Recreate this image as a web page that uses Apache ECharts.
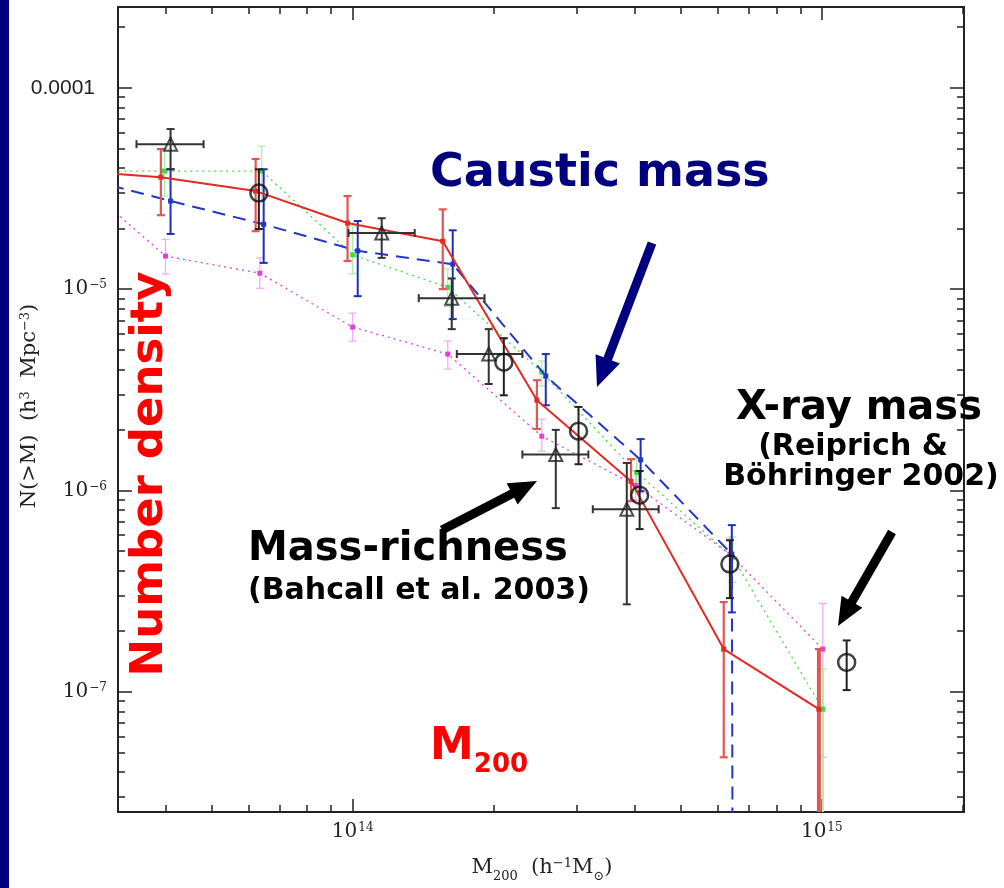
<!DOCTYPE html>
<html><head><meta charset="utf-8">
<script src="https://cdn.jsdelivr.net/npm/echarts@6/dist/echarts.min.js"></script>
<style>html,body{margin:0;padding:0;background:#fff;overflow:hidden}#c{width:1004px;height:888px}</style>
</head><body><div id="c"></div>
<script>
// ---------------- DATA (M200 in h^-1 Msun ; N(>M) in h^3 Mpc^-3) ----------------
// first entry of each model curve lies left of the plotted range (curve enters from the edge)
const redX  = [2.5e13, 3.90e13, 6.21e13, 9.75e13, 1.556e14, 2.47e14, 3.92e14, 6.18e14, 9.86e14];
const redY  = [3.87e-5, 3.60e-5, 3.07e-5, 2.13e-5, 1.73e-5, 2.81e-6, 1.11e-6, 1.63e-7, 8.2e-8];
const redHi = [null, 4.96e-5, 4.43e-5, 2.90e-5, 2.49e-5, 3.53e-6, 1.43e-6, 2.79e-7, 1.63e-7];
const redLo = [null, 2.33e-5, 1.94e-5, 1.38e-5, 1.00e-5, 2.02e-6, 8.85e-7, 4.73e-8, 1e-9];

const blueX  = [2.5e13, 4.09e13, 6.46e13, 1.025e14, 1.634e14, 2.58e14, 4.11e14, 6.43e14, 6.52e14];
const blueY  = [3.70e-5, 2.74e-5, 2.10e-5, 1.55e-5, 1.33e-5, 3.70e-6, 1.42e-6, 4.83e-7, 1e-12];
const blueHi = [null, 3.94e-5, 3.94e-5, 2.18e-5, 1.96e-5, 4.76e-6, 1.80e-6, 6.73e-7, null];
const blueLo = [null, 1.88e-5, 1.35e-5, 9.23e-6, 7.10e-6, 2.65e-6, 9.9e-7, 2.48e-7, null];

const greenX  = [2.5e13, 3.97e13, 6.40e13, 1.0e14, 1.595e14, 2.53e14, 4.03e14, 6.45e14, 1.005e15];
const greenY  = [3.86e-5, 3.86e-5, 3.86e-5, 1.48e-5, 1.02e-5, 3.87e-6, 1.23e-6, 4.67e-7, 8.2e-8];
const greenHi = [null, 5.0e-5, 5.13e-5, 2.06e-5, 1.26e-5, 4.4e-6, 1.45e-6, 5.9e-7, 1.3e-7];
const greenLo = [null, 2.9e-5, 2.74e-5, 1.19e-5, 8.2e-6, 3.3e-6, 9.8e-7, 3.5e-7, 1e-9];

const magX  = [2.5e13, 3.99e13, 6.34e13, 1.0e14, 1.595e14, 2.53e14, 4.01e14, 6.37e14, 1.005e15];
const magY  = [3.77e-5, 1.46e-5, 1.20e-5, 6.48e-6, 4.76e-6, 1.86e-6, 1.06e-6, 4.83e-7, 1.63e-7];
const magHi = [null, 1.77e-5, 1.43e-5, 7.6e-6, 5.52e-6, 2.26e-6, 1.25e-6, 5.8e-7, 2.75e-7];
const magLo = [null, 1.19e-5, 1.01e-5, 5.52e-6, 4.01e-6, 1.57e-6, 8.9e-7, 4.0e-7, 4.73e-8];

// Mass-richness (Bahcall et al. 2003): triangles with x and y errors
const triX   = [4.09e13, 1.153e14, 1.626e14, 1.95e14, 2.71e14, 3.84e14];
const triY   = [5.25e-5, 1.90e-5, 9.02e-6, 4.76e-6, 1.51e-6, 8.07e-7];
const triYHi = [6.24e-5, 2.25e-5, 1.13e-5, 6.33e-6, 2.0e-6, 1.37e-6];
const triYLo = [3.94e-5, 1.43e-5, 6.33e-6, 3.38e-6, 8.17e-7, 2.72e-7];
const triXLo = [3.46e13, 9.8e13, 1.383e14, 1.667e14, 2.30e14, 3.25e14];
const triXHi = [4.81e13, 1.356e14, 1.91e14, 2.30e14, 3.18e14, 4.49e14];

// open circles
const cirX  = [6.31e13, 2.10e14, 3.03e14, 4.09e14, 6.37e14, 1.13e15];
const cirY  = [3.0e-5, 4.34e-6, 1.97e-6, 9.48e-7, 4.31e-7, 1.40e-7];
const cirHi = [3.94e-5, 5.71e-6, 2.60e-6, 1.25e-6, 5.66e-7, 1.80e-7];
const cirLo = [1.99e-5, 2.97e-6, 1.35e-6, 6.43e-7, 2.92e-7, 1.02e-7];

// axes
const xRange = [3.16e13, 2.01e15];
const yRange = [2.53e-8, 2.52e-4];
const xMajor = [1e14, 1e15];
const yMajor = [1e-4, 1e-5, 1e-6, 1e-7];
const yLabel1e4 = '0.0001';
// ---------------------------------------------------------------------------

const L = Math.log10;
function minorTicks(r){
  const out=[]; const a=Math.floor(L(r[0])), b=Math.ceil(L(r[1]));
  for(let e=a;e<=b;e++) for(let k=2;k<=9;k++){const v=k*Math.pow(10,e); if(v>=r[0]&&v<=r[1]) out.push(L(v));}
  return out;
}
const pow10Rich=v=>'{b|10}{p|'+String(Math.round(v)).replace('-','−')+'}';
const tickRich={
  a:{fontFamily:'Liberation Sans',fontSize:21,color:'#222',padding:[0,12,0,0]},
  b:{fontFamily:'DejaVu Serif',fontSize:20,color:'#222',verticalAlign:'bottom'},
  p:{fontFamily:'DejaVu Serif',fontSize:12,color:'#222',verticalAlign:'top',padding:[0,0,0,1]}
};

const AX='#222';
function xAx(pos, major, showLabel){
  return {type:'value', position:pos, min:L(xRange[0]), max:L(xRange[1]),
    axisLine:{show:major, onZero:false, lineStyle:{color:AX,width:2}},
    splitLine:{show:false},
    axisTick:{show:true, inside:true, length: major?13:7, lineStyle:{color:AX,width:1.5},
      customValues: major? xMajor.map(L) : minorTicks(xRange)},
    axisLabel:{show:showLabel, customValues: xMajor.map(L), margin:10,
      formatter:v=>pow10Rich(v), rich:tickRich}
  };
}
function yAx(pos, major, showLabel){
  return {type:'value', position:pos, min:L(yRange[0]), max:L(yRange[1]),
    axisLine:{show:major, onZero:false, lineStyle:{color:AX,width:2}},
    splitLine:{show:false},
    axisTick:{show:true, inside:true, length: major?14:7, lineStyle:{color:AX,width:1.5},
      customValues: major? yMajor.map(L) : minorTicks(yRange)},
    axisLabel:{show:showLabel, customValues: yMajor.map(L), margin:11,
      formatter:v=> Math.round(v)===-4 ? '{a|'+yLabel1e4+'}' : pow10Rich(v),
      rich:tickRich}
  };
}

function lineData(xs,ys){return xs.map((x,i)=>[L(x),L(ys[i])]);}
function errData(xs,ys,lo,hi,xlo,xhi){
  const out=[];
  xs.forEach((x,i)=>{ if(hi[i]==null) return;
    const row=[L(x),L(ys[i]),L(lo[i]),L(hi[i])];
    if(xlo) row.push(L(xlo[i]),L(xhi[i]));
    out.push(row);});
  return out;
}
function errSeries(data,color,width,cap,z,hasX){
  return {type:'custom', z:z, silent:true, data:data,
    renderItem:(params,api)=>{
      const cs=params.coordSys; const top=cs.y, bot=cs.y+cs.height, lft=cs.x, rgt=cs.x+cs.width;
      const x=api.value(0), y=api.value(1);
      const p=api.coord([x,y]); const ph=api.coord([x,api.value(3)]); const pl=api.coord([x,api.value(2)]);
      const ch=[];
      const clipped=pl[1]>bot;
      const st={stroke:color,lineWidth:clipped?width*1.8:width};
      const y1=Math.max(top,ph[1]), y2=Math.min(bot,pl[1]);
      ch.push({type:'line',shape:{x1:p[0],y1:y1,x2:p[0],y2:y2},style:st});
      const cst={stroke:color,lineWidth:width};
      if(ph[1]>=top) ch.push({type:'line',shape:{x1:p[0]-cap,y1:ph[1],x2:p[0]+cap,y2:ph[1]},style:cst});
      if(!clipped) ch.push({type:'line',shape:{x1:p[0]-cap,y1:pl[1],x2:p[0]+cap,y2:pl[1]},style:cst});
      if(hasX){
        const xl=api.coord([api.value(4),y]), xh=api.coord([api.value(5),y]);
        const a=Math.max(lft,xl[0]), b=Math.min(rgt,xh[0]);
        ch.push({type:'line',shape:{x1:a,y1:p[1],x2:b,y2:p[1]},style:cst});
        ch.push({type:'line',shape:{x1:xl[0],y1:p[1]-cap,x2:xl[0],y2:p[1]+cap},style:cst});
        ch.push({type:'line',shape:{x1:xh[0],y1:p[1]-cap,x2:xh[0],y2:p[1]+cap},style:cst});
      }
      return {type:'group',children:ch};
    }};
}
function lineSeries(xs,ys,color,width,type,z){
  return {type:'line', z:z, clip:true, silent:true, data:lineData(xs,ys), symbol:'rect', symbolSize:5,
    showAllSymbol:true, itemStyle:{color:color}, lineStyle:{color:color,width:width,type:type}, animation:false};
}
function arrow(x1,y1,x2,y2,w,hl,hw,color){
  const dx=x2-x1, dy=y2-y1, len=Math.hypot(dx,dy), ux=dx/len, uy=dy/len, nx=-uy, ny=ux;
  const bx=x2-ux*hl, by=y2-uy*hl;
  return {type:'polygon', z:50, shape:{points:[[x1+nx*w/2,y1+ny*w/2],[bx+nx*w/2,by+ny*w/2],[bx+nx*hw/2,by+ny*hw/2],[x2,y2],
    [bx-nx*hw/2,by-ny*hw/2],[bx-nx*w/2,by-ny*w/2],[x1-nx*w/2,y1-ny*w/2]]}, style:{fill:color}};
}
function txt(x,y,text,size,color,align,rot){
  const o={type:'text', z:50, x:x, y:y, style:{text:text, fontFamily:'DejaVu Sans', fontWeight:'bold', fontSize:size,
    fill:color, align:align||'left', verticalAlign:'middle'}};
  if(rot) o.rotation=rot;
  return o;
}
const serifRich={
  n:{fontFamily:'DejaVu Serif',fontSize:21,fill:'#222',verticalAlign:'bottom'},
  u:{fontFamily:'DejaVu Serif',fontSize:13,fill:'#222',verticalAlign:'top'},
  d:{fontFamily:'DejaVu Serif',fontSize:13,fill:'#222',verticalAlign:'bottom',padding:[0,0,-5,0]}
};

const chart=echarts.init(document.getElementById('c'),null,{renderer:'canvas'});
chart.setOption({
  animation:false,
  backgroundColor:'#fff',
  grid:{left:118, top:7, right:40, bottom:76, containLabel:false, outerBoundsMode:'none'},
  xAxis:[xAx('bottom',true,true), xAx('bottom',false,false), xAx('top',true,false), xAx('top',false,false)],
  yAxis:[yAx('left',true,true), yAx('left',false,false), yAx('right',true,false), yAx('right',false,false)],
  series:[
    errSeries(errData(magX,magY,magLo,magHi),'#f2a6f2',1.2,4,2),
    errSeries(errData(greenX,greenY,greenLo,greenHi),'#a8eca8',1.2,4,2),
    lineSeries(magX,magY,'#e040e0',1.3,[2,4],3),
    lineSeries(greenX,greenY,'#40dd40',1.3,[2,4],3),
    errSeries(errData(blueX,blueY,blueLo,blueHi),'#1e2ec0',2,4,4),
    lineSeries(blueX,blueY,'#2436c8',2,[13,8],5),
    errSeries(errData(redX,redY,redLo,redHi),'#e25555',2.2,4,6),
    lineSeries(redX,redY,'#e02a22',2,'solid',7),
    errSeries(errData(triX,triY,triYLo,triYHi,triXLo,triXHi),'#333',2,4,8,true),
    errSeries(errData(cirX,cirY,cirLo,cirHi),'#222',2,4,8),
    {type:'scatter', z:9, silent:true, data:lineData(triX,triY), symbol:'triangle', symbolSize:13,
      itemStyle:{color:'rgba(0,0,0,0)', borderColor:'#222', borderWidth:2}},
    {type:'scatter', z:9, silent:true, data:lineData(cirX,cirY), symbol:'circle', symbolSize:17,
      itemStyle:{color:'rgba(0,0,0,0)', borderColor:'#111', borderWidth:2.5}}
  ],
  graphic:[
    {type:'rect', z:50, shape:{x:0,y:0,width:9,height:888}, style:{fill:'#00007f'}},
    {type:'text', z:50, x:30, y:406, rotation:Math.PI/2, style:{
      text:'{n|N(>M)  (h}{u|3}{n|  Mpc}{u|−3}{n|)}', align:'center', verticalAlign:'middle', rich:serifRich}},
    {type:'text', z:50, x:542, y:868, style:{
      text:'{n|M}{d|200}{n|  (h}{u|−1}{n|M}{d|⊙}{n|)}', align:'center', verticalAlign:'middle', rich:serifRich}},
    txt(430,174,'Caustic mass',46,'#00007f'),
    arrow(652,243,597,387,9,30,26,'#00007f'),
    txt(859,409,'X-ray mass',40,'#000','center'),
    txt(853,447,'(Reiprich &',30,'#000','center'),
    txt(861,477,'Böhringer 2002)',30,'#000','center'),
    arrow(892,532,838,626,9,28,24,'#000'),
    txt(248,550,'Mass-richness',40,'#000'),
    txt(248,591,'(Bahcall et al. 2003)',30,'#000'),
    arrow(442,530,537,481,9,28,24,'#000'),
    txt(150,474,'Number density',45,'#ff0000','center',Math.PI/2),
    {type:'text', z:50, x:430, y:748, style:{text:'{m|M}{s|200}', fill:'#ff0000', verticalAlign:'middle',
      rich:{m:{fontFamily:'DejaVu Sans',fontWeight:'bold',fontSize:44,fill:'#ff0000',verticalAlign:'bottom'},
            s:{fontFamily:'DejaVu Sans',fontWeight:'bold',fontSize:26,fill:'#ff0000',verticalAlign:'bottom',padding:[0,0,-8,0]}}}}
  ]
});
</script></body></html>
